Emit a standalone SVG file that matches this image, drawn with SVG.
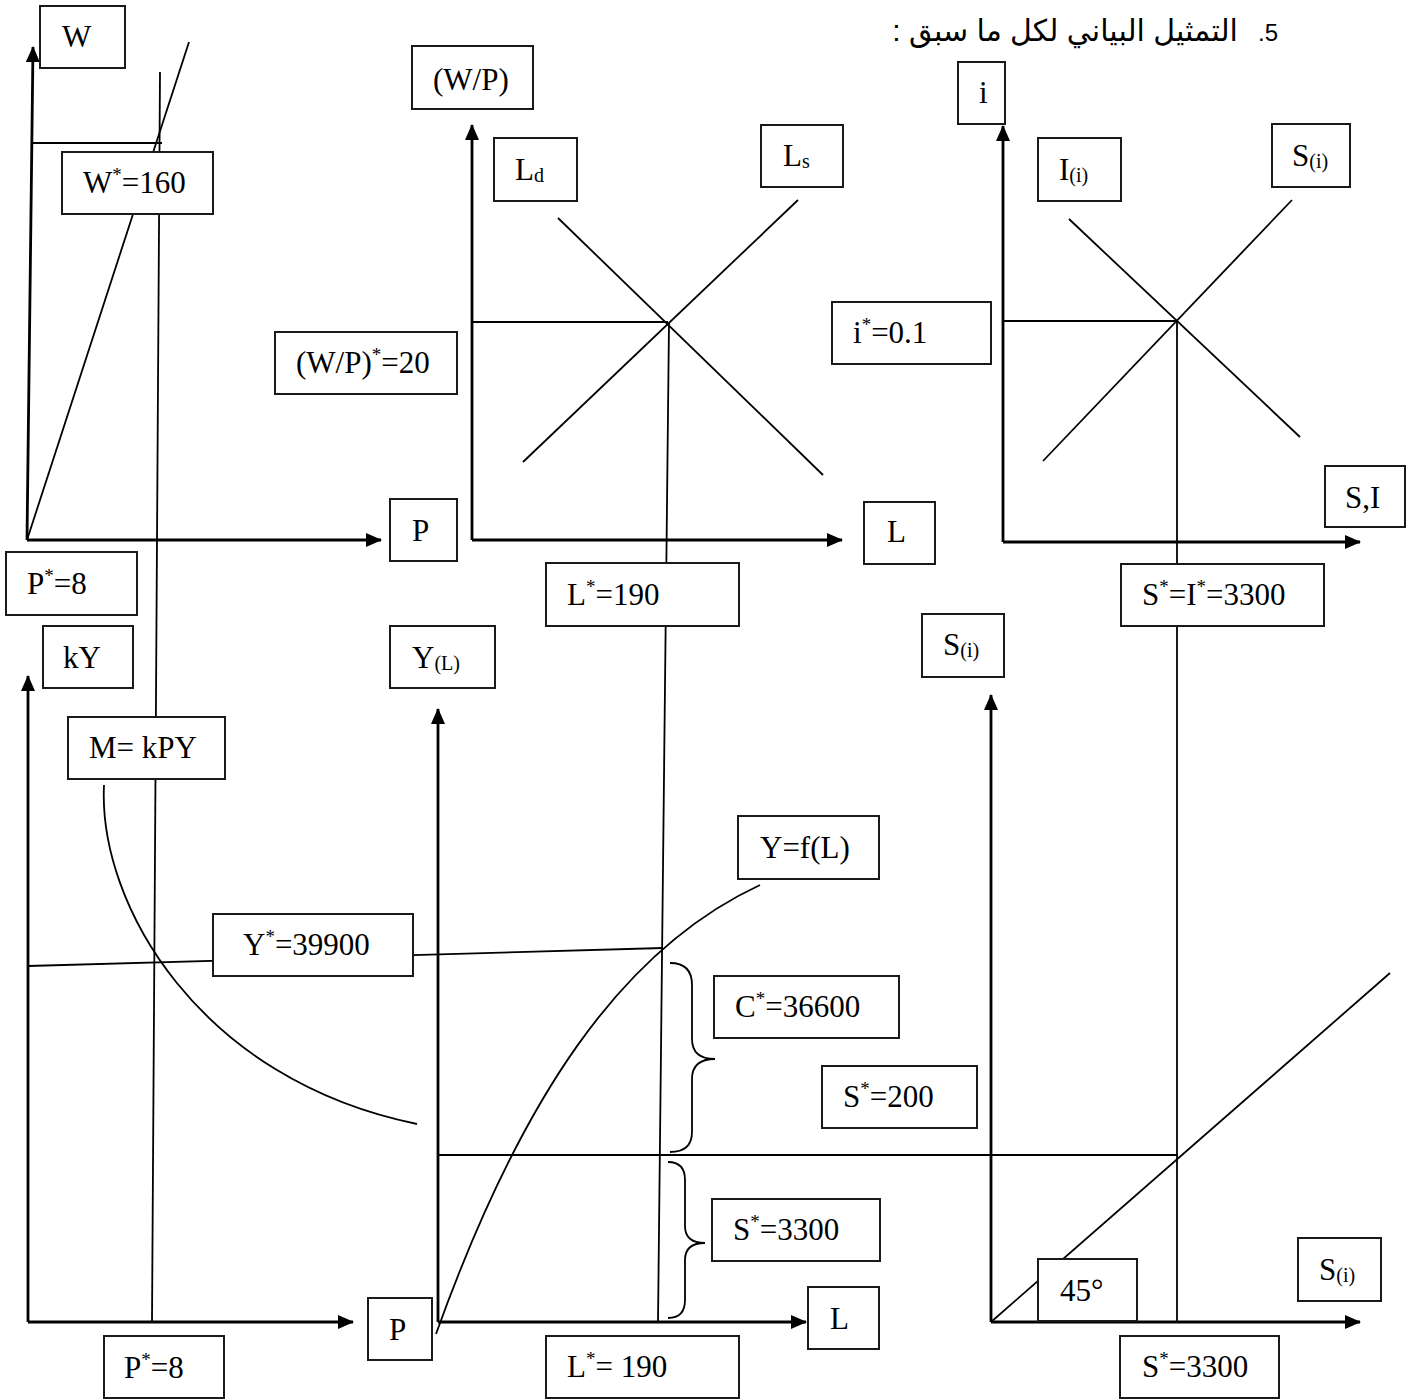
<svg xmlns="http://www.w3.org/2000/svg" width="1416" height="1399" viewBox="0 0 1416 1399">
  <style>
    .ln { stroke: #000; stroke-width: 1.8; fill: none; }
    .ax { stroke: #000; stroke-width: 2.8; fill: none; }
    .node rect { fill: #fff; stroke: #1a1a1a; stroke-width: 2; }
    .node text { font-family: "Liberation Serif", "Times New Roman", serif; font-size: 31px; fill: #000; }
    .sup { font-size: 19px; }
    .sub { font-size: 20px; }
    .title { font-family: "Liberation Sans", "DejaVu Sans", sans-serif; font-size: 24px; fill: #000; }
    .title .ar { font-size: 30px; }
  </style>
  <defs>
    <marker id="ah" markerUnits="userSpaceOnUse" markerWidth="16" markerHeight="16" viewBox="0 0 16 16" refX="15" refY="8" orient="auto">
      <path d="M0,1 L16,8 L0,15 Z" fill="#000"/>
    </marker>
  </defs>
  <rect width="1416" height="1399" fill="#fff"/>

  <text class="title" x="1278" y="41" direction="rtl" xml:space="preserve">5.   <tspan class="ar">التمثيل البياني لكل ما سبق :</tspan></text>

  <g id="connectors">
    <!-- nominal wage / price level -->
    <line class="ax" x1="27" y1="540" x2="33" y2="47" marker-end="url(#ah)"/>
    <line class="ax" x1="27" y1="540" x2="381" y2="540" marker-end="url(#ah)"/>
    <line class="ln" x1="33" y1="143" x2="162" y2="143"/>
    <line class="ln" x1="160" y1="72" x2="152" y2="1322"/>
    <line class="ln" x1="27" y1="540" x2="189" y2="42"/>

    <!-- labour market -->
    <line class="ax" x1="472" y1="540" x2="472" y2="125" marker-end="url(#ah)"/>
    <line class="ax" x1="472" y1="540" x2="842" y2="540" marker-end="url(#ah)"/>
    <line class="ln" x1="558" y1="218" x2="823" y2="475"/>
    <line class="ln" x1="798" y1="200" x2="523" y2="462"/>
    <line class="ln" x1="472" y1="322" x2="668" y2="322"/>
    <line class="ln" x1="669" y1="323" x2="658" y2="1322"/>

    <!-- loanable funds -->
    <line class="ax" x1="1003" y1="542" x2="1003" y2="126" marker-end="url(#ah)"/>
    <line class="ax" x1="1003" y1="542" x2="1360" y2="542" marker-end="url(#ah)"/>
    <line class="ln" x1="1069" y1="219" x2="1300" y2="437"/>
    <line class="ln" x1="1043" y1="461" x2="1292" y2="200"/>
    <line class="ln" x1="1003" y1="321" x2="1178" y2="321"/>
    <line class="ln" x1="1177" y1="321" x2="1177" y2="1322"/>

    <!-- money market -->
    <line class="ax" x1="28" y1="1322" x2="28" y2="676" marker-end="url(#ah)"/>
    <line class="ax" x1="28" y1="1322" x2="353" y2="1322" marker-end="url(#ah)"/>
    <path class="ln" d="M104,785 C98,905 200,1080 417,1124"/>
    <line class="ln" x1="28" y1="966" x2="663" y2="948"/>

    <!-- production function -->
    <line class="ax" x1="438" y1="1322" x2="438" y2="709" marker-end="url(#ah)"/>
    <line class="ax" x1="438" y1="1322" x2="806" y2="1322" marker-end="url(#ah)"/>
    <path class="ln" d="M436,1334 C520,1100 620,950 760,885"/>
    <line class="ln" x1="438" y1="1155" x2="1178" y2="1155"/>
    <path class="ln" d="M670,963 Q692,963 692,985 L692,1039 Q692,1059 715,1059 Q692,1059 692,1079 L692,1132 Q692,1152 670,1152"/>
    <path class="ln" d="M668,1162 Q685,1162 685,1180 L685,1226 Q685,1243 705,1243 Q685,1243 685,1260 L685,1300 Q685,1318 668,1318"/>

    <!-- 45 degree line -->
    <line class="ax" x1="991" y1="1322" x2="991" y2="695" marker-end="url(#ah)"/>
    <line class="ax" x1="991" y1="1322" x2="1360" y2="1322" marker-end="url(#ah)"/>
    <line class="ln" x1="991" y1="1322" x2="1390" y2="973"/>
  </g>

  <g id="n-w" class="node"><rect x="40" y="6" width="85" height="62"/><text x="62" y="47">W</text></g>
  <g id="n-wstar" class="node"><rect x="62" y="152" width="151" height="62"/><text x="83" y="193">W<tspan class="sup" dy="-12">*</tspan><tspan dy="12">=160</tspan></text></g>
  <g id="n-p-top" class="node"><rect x="390" y="499" width="67" height="62"/><text x="412" y="541">P</text></g>
  <g id="n-pstar-top" class="node"><rect x="6" y="552" width="131" height="63"/><text x="27" y="594">P<tspan class="sup" dy="-12">*</tspan><tspan dy="12">=8</tspan></text></g>

  <g id="n-wp" class="node"><rect x="412" y="46" width="121" height="63"/><text x="433" y="90">(W/P)</text></g>
  <g id="n-ld" class="node"><rect x="494" y="138" width="83" height="63"/><text x="515" y="180">L<tspan class="sub" dy="2">d</tspan></text></g>
  <g id="n-ls" class="node"><rect x="761" y="125" width="82" height="62"/><text x="783" y="166">L<tspan class="sub" dy="2">s</tspan></text></g>
  <g id="n-wpstar" class="node"><rect x="275" y="332" width="182" height="62"/><text x="296" y="373">(W/P)<tspan class="sup" dy="-12">*</tspan><tspan dy="12">=20</tspan></text></g>
  <g id="n-l-top" class="node"><rect x="864" y="502" width="71" height="62"/><text x="887" y="542">L</text></g>
  <g id="n-lstar-top" class="node"><rect x="546" y="563" width="193" height="63"/><text x="567" y="605">L<tspan class="sup" dy="-12">*</tspan><tspan dy="12">=190</tspan></text></g>

  <g id="n-i" class="node"><rect x="958" y="62" width="47" height="62"/><text x="979" y="103">i</text></g>
  <g id="n-ii" class="node"><rect x="1038" y="138" width="83" height="63"/><text x="1059" y="180">I<tspan class="sub" dy="2">(i)</tspan></text></g>
  <g id="n-si-top" class="node"><rect x="1272" y="124" width="78" height="63"/><text x="1292" y="166">S<tspan class="sub" dy="2">(i)</tspan></text></g>
  <g id="n-sI" class="node"><rect x="1325" y="466" width="80" height="61"/><text x="1345" y="508">S,I</text></g>
  <g id="n-istar" class="node"><rect x="832" y="302" width="159" height="62"/><text x="853" y="343">i<tspan class="sup" dy="-12">*</tspan><tspan dy="12">=0.1</tspan></text></g>
  <g id="n-sistar" class="node"><rect x="1121" y="564" width="203" height="62"/><text x="1142" y="605">S<tspan class="sup" dy="-12">*</tspan><tspan dy="12">=I</tspan><tspan class="sup" dy="-12">*</tspan><tspan dy="12">=3300</tspan></text></g>

  <g id="n-ky" class="node"><rect x="43" y="626" width="90" height="62"/><text x="63" y="668">kY</text></g>
  <g id="n-m" class="node"><rect x="68" y="717" width="157" height="62"/><text x="89" y="758">M= kPY</text></g>
  <g id="n-ystar" class="node"><rect x="213" y="914" width="200" height="62"/><text x="243" y="955">Y<tspan class="sup" dy="-12">*</tspan><tspan dy="12">=39900</tspan></text></g>
  <g id="n-p-bottom" class="node"><rect x="368" y="1298" width="64" height="62"/><text x="389" y="1340">P</text></g>
  <g id="n-pstar-bottom" class="node"><rect x="104" y="1336" width="120" height="62"/><text x="124" y="1378">P<tspan class="sup" dy="-12">*</tspan><tspan dy="12">=8</tspan></text></g>

  <g id="n-yl" class="node"><rect x="390" y="626" width="105" height="62"/><text x="412" y="668">Y<tspan class="sub" dy="2">(L)</tspan></text></g>
  <g id="n-yfl" class="node"><rect x="738" y="816" width="141" height="63"/><text x="760" y="858">Y=f(L)</text></g>
  <g id="n-cstar" class="node"><rect x="714" y="976" width="185" height="62"/><text x="735" y="1017">C<tspan class="sup" dy="-12">*</tspan><tspan dy="12">=36600</tspan></text></g>
  <g id="n-s200" class="node"><rect x="822" y="1066" width="155" height="62"/><text x="843" y="1107">S<tspan class="sup" dy="-12">*</tspan><tspan dy="12">=200</tspan></text></g>
  <g id="n-s3300-mid" class="node"><rect x="712" y="1199" width="168" height="62"/><text x="733" y="1240">S<tspan class="sup" dy="-12">*</tspan><tspan dy="12">=3300</tspan></text></g>
  <g id="n-l-bottom" class="node"><rect x="808" y="1287" width="71" height="62"/><text x="830" y="1329">L</text></g>
  <g id="n-lstar-bottom" class="node"><rect x="546" y="1336" width="193" height="62"/><text x="567" y="1377">L<tspan class="sup" dy="-12">*</tspan><tspan dy="12">= 190</tspan></text></g>

  <g id="n-si-mid" class="node"><rect x="922" y="614" width="82" height="63"/><text x="943" y="655">S<tspan class="sub" dy="2">(i)</tspan></text></g>
  <g id="n-45" class="node"><rect x="1038" y="1259" width="99" height="62"/><text x="1060" y="1301">45°</text></g>
  <g id="n-si-bottom" class="node"><rect x="1298" y="1238" width="83" height="63"/><text x="1319" y="1280">S<tspan class="sub" dy="2">(i)</tspan></text></g>
  <g id="n-s3300-bottom" class="node"><rect x="1120" y="1336" width="159" height="62"/><text x="1142" y="1377">S<tspan class="sup" dy="-12">*</tspan><tspan dy="12">=3300</tspan></text></g>
</svg>
